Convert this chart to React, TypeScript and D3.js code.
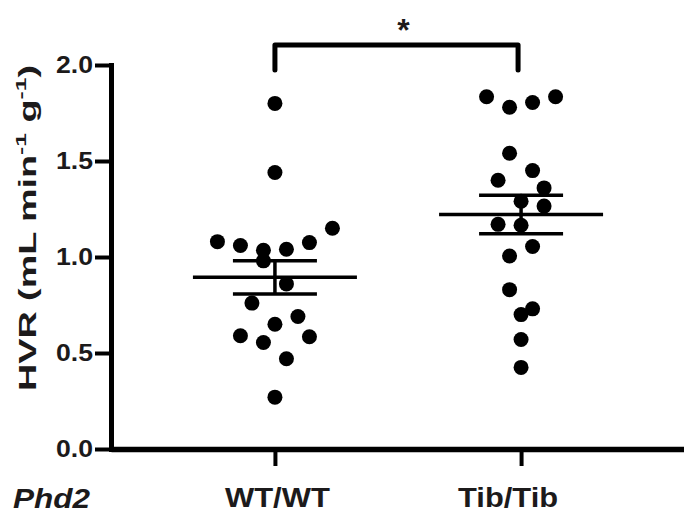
import React, { useEffect, useRef } from 'react';
import * as d3 from 'd3';

const width = 684;
const height = 516;

// genotype groups
const groups = ['WT/WT', 'Tib/Tib'];

// HVR values per animal (mL min-1 g-1)
const wtValues = [1.80, 1.44, 1.08, 1.06, 1.035, 1.04, 1.075, 1.15, 0.98, 0.86,
  0.76, 0.65, 0.69, 0.59, 0.555, 0.47, 0.585, 0.27];
const tibValues = [1.835, 1.78, 1.805, 1.835, 1.54, 1.45, 1.40, 1.29, 1.36,
  1.17, 1.165, 1.265, 1.005, 1.055, 0.83, 0.70, 0.73, 0.57, 0.425];

const yTicks = [0, 0.5, 1.0, 1.5, 2.0];
const significance = '*';

const font = '"Liberation Sans", Arial, Helvetica, sans-serif';
const ink = '#1c1a1b';

const xScale = d3.scalePoint<string>().domain(groups).range([111, 685]).padding(0.666);
const yScale = d3.scaleLinear().domain([0, 2]).range([449, 65]);

// prism-like column scatter: bin points into rows, centre each row
function swarm(values: number[], rowGap = 24, step = 23) {
  const order = d3.range(values.length).sort((a, b) => values[b] - values[a]);
  const rows: number[][] = [];
  let cur: number[] = [];
  order.forEach(i => {
    if (cur.length && yScale(values[i]) - yScale(values[cur[0]]) > rowGap) {
      rows.push(cur);
      cur = [];
    }
    cur.push(i);
  });
  rows.push(cur);
  const off = new Array(values.length).fill(0);
  rows.forEach(r => {
    r.sort((a, b) => a - b);
    r.forEach((i, k) => off[i] = (k - (r.length - 1) / 2) * step);
  });
  return off;
}

function Group({ name, values }: { name: string; values: number[] }) {
  const cx = xScale(name) as number;
  const offsets = swarm(values);
  const mean = d3.mean(values) as number;
  const sem = (d3.deviation(values) as number) / Math.sqrt(values.length);
  return (
    <g>
      {values.map((v, i) => (
        <circle key={i} cx={cx + offsets[i]} cy={yScale(v)} r={7.5} fill="#000" />
      ))}
      <line x1={cx - 82} x2={cx + 82} y1={yScale(mean)} y2={yScale(mean)} stroke="#000" strokeWidth={3.5} />
      <line x1={cx - 42} x2={cx + 42} y1={yScale(mean + sem)} y2={yScale(mean + sem)} stroke="#000" strokeWidth={3.5} />
      <line x1={cx - 42} x2={cx + 42} y1={yScale(mean - sem)} y2={yScale(mean - sem)} stroke="#000" strokeWidth={3.5} />
      <line x1={cx} x2={cx} y1={yScale(mean + sem)} y2={yScale(mean - sem)} stroke="#000" strokeWidth={3.5} />
    </g>
  );
}

export default function App() {
  const xAxisRef = useRef<SVGGElement>(null);
  const yAxisRef = useRef<SVGGElement>(null);

  useEffect(() => {
    const yAxis = d3.axisLeft(yScale).tickValues(yTicks).tickFormat(d3.format('.1f'))
      .tickSize(16).tickSizeOuter(0).tickPadding(2);
    const ya = d3.select(yAxisRef.current).call(yAxis);
    ya.select('.domain').attr('stroke', '#000').attr('stroke-width', 5).attr('stroke-linecap', 'square');
    ya.selectAll('.tick line').attr('stroke', '#000').attr('stroke-width', 4);
    ya.selectAll('.tick text')
      .attr('fill', ink).attr('font-family', font).attr('font-weight', 'bold').attr('font-size', 23)
      .attr('textLength', 37).attr('lengthAdjust', 'spacingAndGlyphs');

    const xAxis = d3.axisBottom(xScale).tickSize(17).tickSizeOuter(0).tickFormat(() => '');
    const xa = d3.select(xAxisRef.current).call(xAxis);
    xa.select('.domain').attr('stroke', '#000').attr('stroke-width', 5.5);
    xa.selectAll('.tick line').attr('stroke', '#000').attr('stroke-width', 4);
  }, []);

  const x1 = xScale('WT/WT') as number;
  const x2 = (xScale('Tib/Tib') as number) - 3;

  return (
    <svg width={width} height={height} style={{ position: 'absolute', left: 0, top: 0, background: '#fff' }}>
      {/* axes */}
      <g ref={xAxisRef} transform={`translate(0, ${yScale(0)})`} />
      <g ref={yAxisRef} transform="translate(111, 0)" />

      {/* y title */}
      <text transform="translate(36, 391) rotate(-90)" fill={ink} fontFamily={font} fontWeight="bold"
        fontSize={23} textLength={326} lengthAdjust="spacingAndGlyphs">
        HVR (mL min<tspan fontSize={15} dy={-10}>-1</tspan><tspan dy={10}> g</tspan>
        <tspan fontSize={15} dy={-10}>-1</tspan><tspan dy={10}>)</tspan>
      </text>

      <Group name="WT/WT" values={wtValues} />
      <Group name="Tib/Tib" values={tibValues} />

      {/* significance bracket */}
      <path d={`M${x1},70V45H${x2}V70`} fill="none" stroke="#000" strokeWidth={5} strokeLinejoin="round" strokeLinecap="round" />
      <text x={(x1 + x2) / 2 + 7} y={41} textAnchor="middle" fill={ink} fontFamily={font} fontWeight="bold" fontSize={32}>
        {significance}
      </text>

      {/* group labels */}
      <text x={13} y={508} fill={ink} fontFamily={font} fontWeight="bold" fontStyle="italic" fontSize={28}
        textLength={77} lengthAdjust="spacingAndGlyphs">Phd2</text>
      <text x={(xScale('WT/WT') as number) + 2.5} y={507} textAnchor="middle" fill={ink} fontFamily={font}
        fontWeight="bold" fontSize={27} textLength={105} lengthAdjust="spacingAndGlyphs">WT/WT</text>
      <text x={(xScale('Tib/Tib') as number) - 13} y={507} textAnchor="middle" fill={ink} fontFamily={font}
        fontWeight="bold" fontSize={27} textLength={100} lengthAdjust="spacingAndGlyphs">Tib/Tib</text>
    </svg>
  );
}
